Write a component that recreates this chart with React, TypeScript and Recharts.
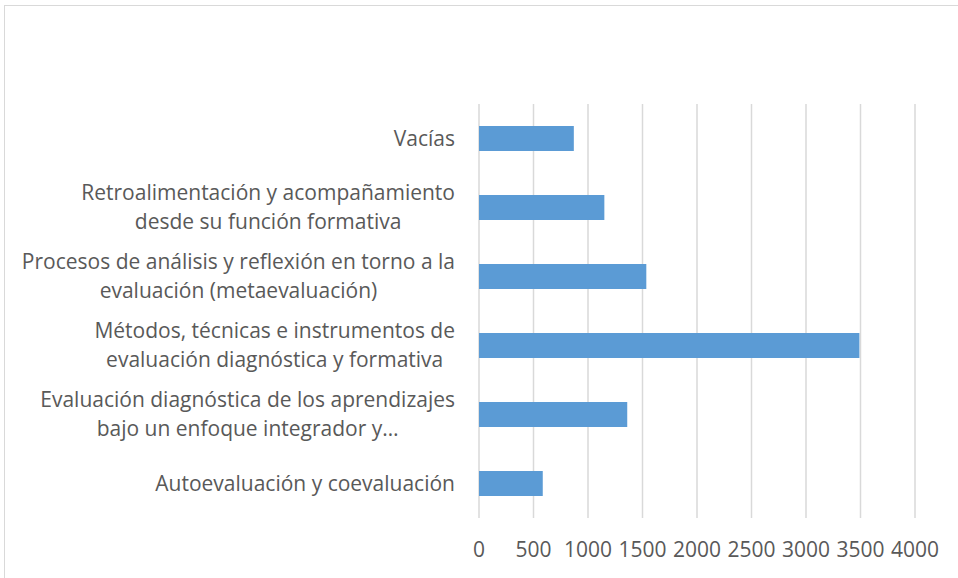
import React from "react";
import { BarChart, Bar, XAxis, YAxis, CartesianGrid } from "recharts";

const categories: string[] = [
  "Vacías",
  "Retroalimentación y acompañamiento\ndesde su función formativa",
  "Procesos de análisis y reflexión en torno a la\nevaluación (metaevaluación)",
  "Métodos, técnicas e instrumentos de\nevaluación diagnóstica y formativa",
  "Evaluación diagnóstica de los aprendizajes\nbajo un enfoque integrador y…",
  "Autoevaluación y coevaluación",
];
const values: number[] = [870, 1150, 1535, 3490, 1360, 585];
const xTicks: number[] = [0, 500, 1000, 1500, 2000, 2500, 3000, 3500, 4000];

const data = categories.map((name, i) => ({ name, value: values[i] }));

const FONT = "'Open Sans', sans-serif";
const FS = 21;
const TEXT = "#595959";
const LINE_H = 29;

let canvasCtx: CanvasRenderingContext2D | null = null;
function measure(s: string): number {
  if (!canvasCtx) {
    const c = document.createElement("canvas");
    canvasCtx = c.getContext("2d");
  }
  if (!canvasCtx) return s.length * FS * 0.5;
  canvasCtx.font = `${FS}px 'Open Sans'`;
  return canvasCtx.measureText(s).width;
}

const YTick = (props: any) => {
  const { x, y, payload } = props;
  const lines: string[] = String(payload.value).split("\n");
  const maxW = Math.max(...lines.map(measure));
  const right = x - 22;
  const cx = right - maxW / 2;
  const n = lines.length;
  return (
    <g>
      {lines.map((l, i) => (
        <text
          key={i}
          x={cx}
          y={y + (i - (n - 1) / 2) * LINE_H}
          dy="0.35em"
          textAnchor="middle"
          fill={TEXT}
          fontSize={FS}
          fontFamily={FONT}
        >
          {l}
        </text>
      ))}
    </g>
  );
};

export default function App() {
  return (
    <div
      style={{
        position: "fixed",
        left: 0,
        top: 0,
        width: 958,
        height: 578,
        overflow: "hidden",
        background: "#fff",
      }}
    >
      <div
        style={{
          position: "absolute",
          left: 4,
          top: 5,
          width: 1000,
          height: 700,
          border: "1px solid #d9d9d9",
        }}
      />
      <div style={{ position: "absolute", left: 0, top: 0 }}>
        <BarChart
          width={958}
          height={578}
          data={data}
          layout="vertical"
          margin={{ top: 104, right: 43, left: 0, bottom: 0 }}
        >
          <CartesianGrid horizontal={false} vertical={true} stroke="#d9d9d9" strokeWidth={1.5} />
          <XAxis
            type="number"
            domain={[0, 4000]}
            ticks={xTicks}
            axisLine={false}
            tickLine={false}
            tickSize={0}
            tickMargin={24}
            height={60}
            interval={0}
            tick={{ fill: TEXT, fontSize: FS, fontFamily: FONT }}
          />
          <YAxis
            type="category"
            dataKey="name"
            width={479}
            axisLine={false}
            tickLine={false}
            tickSize={0}
            interval={0}
            tick={<YTick />}
          />
          <Bar dataKey="value" fill="#5B9BD5" barSize={25} isAnimationActive={false} />
        </BarChart>
      </div>
    </div>
  );
}
